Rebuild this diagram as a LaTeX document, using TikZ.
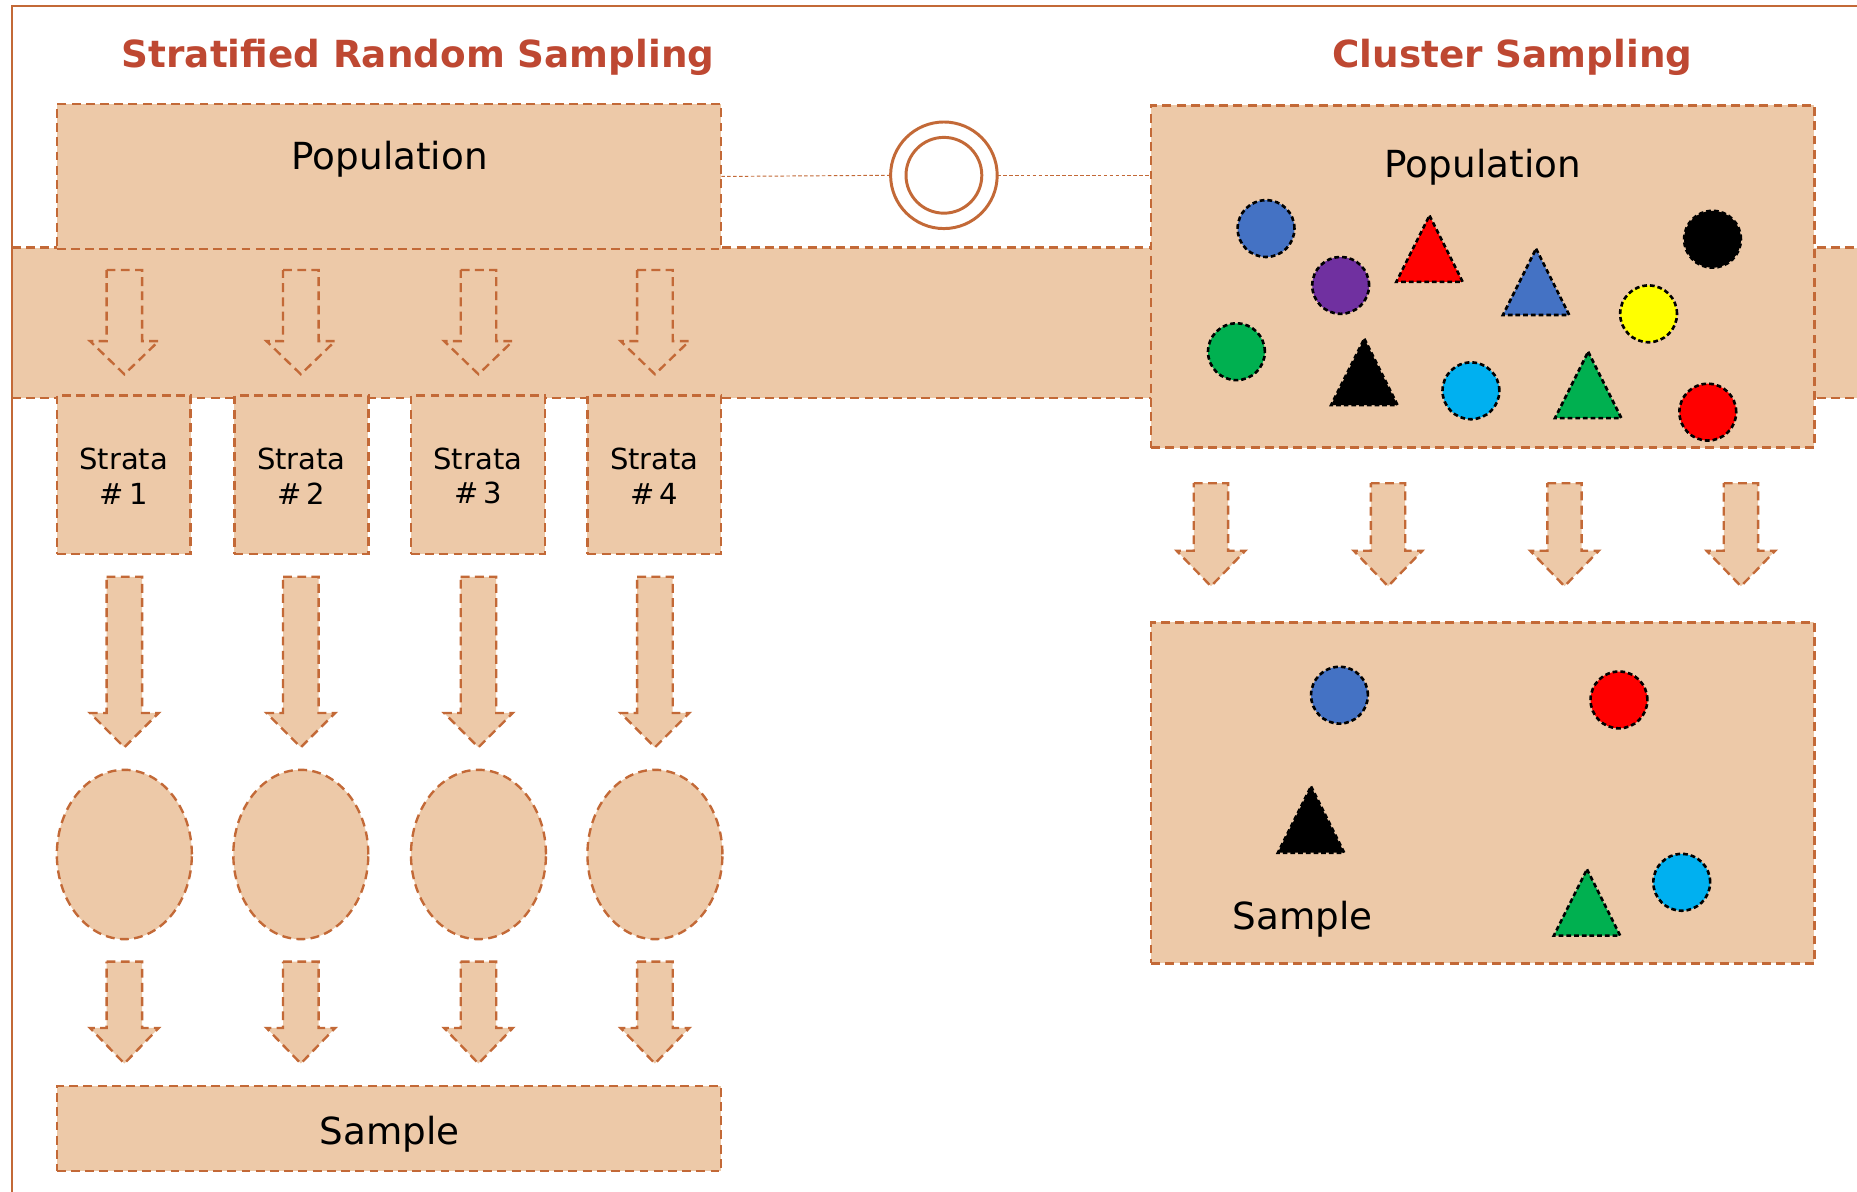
\documentclass[tikz,border=0pt]{standalone}
\usepackage{fontspec}
\setmainfont{DejaVu Sans}
\usetikzlibrary{calc,shapes.geometric}
\definecolor{peach}{RGB}{237,201,168}
\definecolor{edgec}{RGB}{195,105,55}
\definecolor{titlec}{RGB}{190,72,50}
\definecolor{sblue}{RGB}{68,114,196}
\definecolor{spurple}{RGB}{112,48,160}
\definecolor{sgreen}{RGB}{0,176,80}
\definecolor{scyan}{RGB}{0,176,240}
\definecolor{syellow}{RGB}{255,255,0}
\definecolor{sred}{RGB}{255,0,0}
\newcommand{\dnarrow}[5]{%
  \draw[arrowshape] ({#1-#5},#2) -- ({#1+#5},#2) -- ({#1+#5},#3) -- ({#1+29},#3) -- (#1,#4) -- ({#1-29},#3) -- ({#1-#5},#3) -- cycle;}
\newcommand{\tri}[3]{%
  \draw[trishape, fill=#1] (#2,#3) -- ({#2+28},{#3+56}) -- ({#2-28},{#3+56}) -- cycle;}
\begin{document}
\begin{tikzpicture}[x=1pt,y=-1pt,
  dashline/.style={draw=edgec, line width=2pt, dash pattern=on 7.5pt off 4.5pt},
  box/.style={dashline, fill=peach, inner sep=0pt, outer sep=0pt, rectangle},
  oval/.style={dashline, fill=peach, inner sep=0pt, outer sep=0pt, ellipse},
  arrowshape/.style={dashline, fill=peach, line join=miter},
  lbl/.style={font=\fontsize{31.5}{38}\selectfont, text=black, inner sep=0pt},
  stratalbl/.style={font=\fontsize{24.5}{29}\selectfont, text=black, inner sep=0pt, align=center},
  ttl/.style={font=\fontsize{31.5}{38}\selectfont\bfseries, text=titlec, inner sep=0pt},
  dot/.style={circle, draw=black, line width=2.2pt, dash pattern=on 4pt off 2.5pt, minimum size=48pt, inner sep=0pt},
  trishape/.style={draw=black, line width=2.2pt, dash pattern=on 4pt off 2.5pt, line join=miter},
]
\useasboundingbox (0,0) rectangle (1568,1006);
\fill[white] (0,0) rectangle (1568,1006);

% band
\fill[peach] (10,209) rectangle (1580,336);
\draw[dashline] (10,209) -- (1580,209);
\draw[dashline] (10,336) -- (1580,336);

% frame
\draw[edgec, line width=1.8pt] (1580,5) -- (10,5) -- (10,1020);

% titles
\node[ttl, anchor=base] (t1) at (353,57) {Stratified Random Sampling};
\node[ttl, anchor=base] (t2) at (1277,57) {Cluster Sampling};

% left population
\node[box, minimum width=561pt, minimum height=122pt] (leftpop) at (328.5,149) {};
\node[lbl, anchor=base] (leftpoplbl) at (329,143) {Population};

% band arrows
\foreach \cx in {105,254,404,553} {\dnarrow{\cx}{228}{288}{316}{15}}

% strata
\foreach \cx/\n in {104.5/1,254.5/2,403.5/3,552.5/4} {
  \node[box, minimum width=113pt, minimum height=134pt] (strata\n) at (\cx,401) {};
  \node[stratalbl] (stratalbl\n) at (\cx,402) {Strata\\\#\,\n};
}

% big arrows
\foreach \cx in {105,254,404,553} {\dnarrow{\cx}{487}{602}{631}{15}}

% ellipses
\foreach \cx/\n in {105/1,254/2,404/3,553/4} {
  \node[oval, minimum width=114pt, minimum height=143pt] (ell\n) at (\cx,721.5) {};
}

% small arrows
\foreach \cx in {105,254,404,553} {\dnarrow{\cx}{812}{868}{898}{15}}

% left sample
\node[box, minimum width=561pt, minimum height=72pt] (leftsample) at (328.5,953) {};
\node[lbl, anchor=base] (leftsamplelbl) at (329,966) {Sample};

% cluster population
\node[box, minimum width=560pt, minimum height=289pt] (clpop) at (1252,233.5) {};
\node[lbl, anchor=base] (clpoplbl) at (1252,150) {Population};

% ring
\node[circle, draw=edgec, line width=2.5pt, minimum size=90pt, inner sep=0pt, outer sep=0pt, fill=white] (ring) at (797,148) {};
\draw[edgec, line width=2.5pt] (ring.center) circle[radius=32pt];
\draw[edgec, line width=0.8pt, dash pattern=on 3pt off 2pt] (leftpop.east) -- (ring.west);
\draw[edgec, line width=0.8pt, dash pattern=on 3pt off 2pt] (ring.east) -- (ring.east -| clpop.west);

% population shapes
\node[dot, fill=sblue] (p1) at (1069,193) {};
\node[dot, fill=spurple] (p2) at (1132,241) {};
\node[dot, fill=black] (p3) at (1446,202) {};
\node[dot, fill=syellow] (p4) at (1392,265) {};
\node[dot, fill=sgreen] (p5) at (1044,297) {};
\node[dot, fill=scyan] (p6) at (1242,330) {};
\node[dot, fill=sred] (p7) at (1442,348) {};
\tri{sred}{1207}{182}
\tri{sblue}{1297}{210}
\tri{black}{1152}{286}
\tri{sgreen}{1341}{297}

% cluster arrows
\foreach \cx in {1022.5,1172,1321,1470} {\dnarrow{\cx}{408}{465}{495}{14.5}}

% cluster sample
\node[box, minimum width=560pt, minimum height=288pt] (clsample) at (1252,669.5) {};
\node[lbl, anchor=base] (clsamplelbl) at (1100,785) {Sample};
\node[dot, fill=sblue] (s1) at (1131,587) {};
\node[dot, fill=sred] (s2) at (1367,591) {};
\node[dot, fill=scyan] (s3) at (1420,745) {};
\tri{black}{1107}{664}
\tri{sgreen}{1340}{734}
\end{tikzpicture}
\end{document}
